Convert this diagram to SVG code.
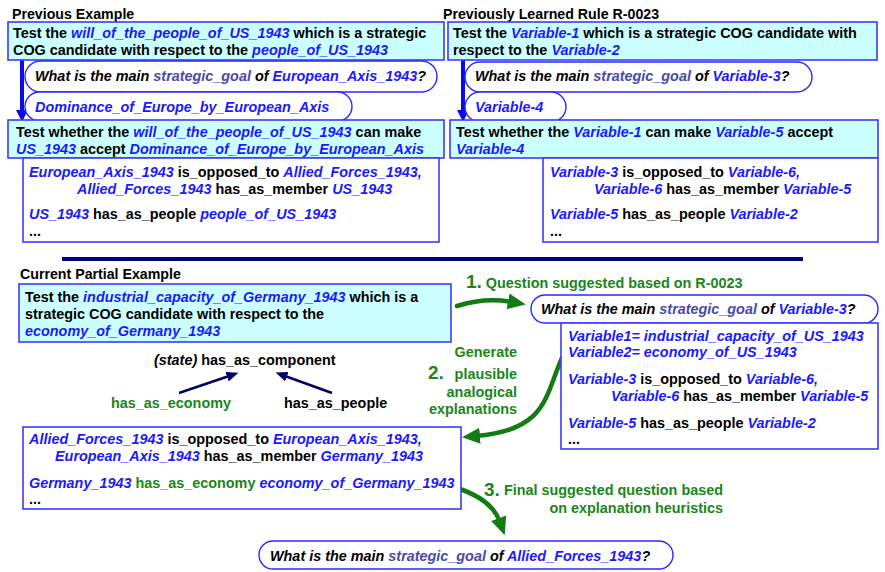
<svg xmlns="http://www.w3.org/2000/svg" width="885" height="572" viewBox="0 0 885 572">
<defs>
<style>
text{font-family:"Liberation Sans",Arial,Helvetica,sans-serif;font-weight:bold;font-size:14.4px;fill:#000}
.ttl{font-size:14.2px}
.v{fill:#1a1aff;font-style:italic}
.sg{fill:#4a4aaa;font-style:italic}
.i{font-style:italic}
.gr{fill:#1a861a}
.num{font-size:19px}
.cy{fill:#ccffff;stroke:#3a3aff;stroke-width:1.6}
.wb{fill:#fff;stroke:#3a3aff;stroke-width:1.6}
.pill{fill:#fff;stroke:#2a2aff;stroke-width:1.4}
.garr{fill:none;stroke:#147a14;stroke-width:4.5;stroke-linecap:round}
.narr{fill:none;stroke:#000066;stroke-width:2.5}
</style>
<marker id="gh" markerUnits="userSpaceOnUse" markerWidth="18" markerHeight="18" refX="4" refY="8" orient="auto" viewBox="0 0 18 16">
<path d="M0,0 L18,8 L0,16 z" fill="#147a14"/>
</marker>
<marker id="nh" markerUnits="userSpaceOnUse" markerWidth="12" markerHeight="10" refX="2" refY="5" orient="auto" viewBox="0 0 12 10">
<path d="M0,0 L12,5 L0,10 z" fill="#000066"/>
</marker>
</defs>
<rect width="885" height="572" fill="#fff"/>

<g id="titles">
<text x="12" y="19" class="ttl">Previous Example</text>
<text x="443" y="19" class="ttl">Previously Learned Rule R-0023</text>
<text x="20" y="279" class="ttl">Current Partial Example</text>
</g>

<g id="separator">
<line x1="62" y1="259" x2="803" y2="259" stroke="#000080" stroke-width="4"/>
</g>

<g id="connectors">
<line x1="22" y1="60" x2="22" y2="112" stroke="#0a0aee" stroke-width="4"/>
<polygon points="16,110 28,110 22,122" fill="#0a0aee"/>
<line x1="463" y1="60" x2="463" y2="112" stroke="#0a0aee" stroke-width="4"/>
<polygon points="457,110 469,110 463,122" fill="#0a0aee"/>
<line class="narr" x1="179" y1="393" x2="229" y2="376" marker-end="url(#nh)"/>
<line class="narr" x1="332" y1="393" x2="285" y2="376" marker-end="url(#nh)"/>
<path class="garr" d="M457,306 Q485,297 512,302" marker-end="url(#gh)"/>
<path class="garr" d="M562,358 C545,395 548,430 476,436" marker-end="url(#gh)"/>
<path class="garr" d="M457,488 C482,496 495,508 500,522" marker-end="url(#gh)"/>
</g>

<g id="prev-test">
<rect class="cy" x="8" y="22" width="436" height="38"/>
<text x="13" y="38">Test the <tspan class="v">will_of_the_people_of_US_1943</tspan> which is a strategic</text>
<text x="13" y="55">COG candidate with respect to the <tspan class="v">people_of_US_1943</tspan></text>
</g>
<g id="prev-question">
<rect class="pill" x="25" y="61" width="412" height="31" rx="15.5"/>
<text x="35" y="81" class="i">What is the main <tspan class="sg">strategic_goal</tspan> of <tspan class="v">European_Axis_1943</tspan>?</text>
</g>
<g id="prev-answer">
<rect class="pill" x="25" y="92" width="327" height="29" rx="14.5"/>
<text x="35" y="112" class="v">Dominance_of_Europe_by_European_Axis</text>
</g>
<g id="prev-subtest">
<rect class="cy" x="8" y="120" width="436" height="38"/>
<text x="16" y="137">Test whether the <tspan class="v">will_of_the_people_of_US_1943</tspan> can make</text>
<text x="16" y="154"><tspan class="v">US_1943</tspan> accept <tspan class="v">Dominance_of_Europe_by_European_Axis</tspan></text>
</g>
<g id="prev-explanation">
<rect class="wb" x="23" y="158" width="416" height="84"/>
<text x="29" y="177"><tspan class="v">European_Axis_1943</tspan> is_opposed_to <tspan class="v">Allied_Forces_1943,</tspan></text>
<text x="77" y="194"><tspan class="v">Allied_Forces_1943</tspan> has_as_member <tspan class="v">US_1943</tspan></text>
<text x="29" y="219"><tspan class="v">US_1943</tspan> has_as_people <tspan class="v">people_of_US_1943</tspan></text>
<text x="29" y="236">...</text>
</g>

<g id="rule-test">
<rect class="cy" x="448" y="22" width="429" height="38"/>
<text x="453" y="38">Test the <tspan class="v">Variable-1</tspan> which is a strategic COG candidate with</text>
<text x="453" y="55">respect to the <tspan class="v">Variable-2</tspan></text>
</g>
<g id="rule-question">
<rect class="pill" x="465" y="62" width="347" height="30" rx="15"/>
<text x="475" y="81" class="i">What is the main <tspan class="sg">strategic_goal</tspan> of <tspan class="v">Variable-3</tspan>?</text>
</g>
<g id="rule-answer">
<rect class="pill" x="465" y="92" width="101" height="30" rx="15"/>
<text x="475" y="112" class="v">Variable-4</text>
</g>
<g id="rule-subtest">
<rect class="cy" x="450" y="120" width="428" height="38"/>
<text x="456" y="137">Test whether the <tspan class="v">Variable-1</tspan> can make <tspan class="v">Variable-5</tspan> accept</text>
<text x="456" y="154"><tspan class="v">Variable-4</tspan></text>
</g>
<g id="rule-explanation">
<rect class="wb" x="543" y="158" width="335" height="84"/>
<text x="550" y="177"><tspan class="v">Variable-3</tspan> is_opposed_to <tspan class="v">Variable-6,</tspan></text>
<text x="594" y="194"><tspan class="v">Variable-6</tspan> has_as_member <tspan class="v">Variable-5</tspan></text>
<text x="550" y="219"><tspan class="v">Variable-5</tspan> has_as_people <tspan class="v">Variable-2</tspan></text>
<text x="550" y="236">...</text>
</g>

<g id="current-test">
<rect class="cy" x="19" y="284" width="432" height="58"/>
<text x="25" y="302">Test the <tspan class="v">industrial_capacity_of_Germany_1943</tspan> which is a</text>
<text x="25" y="319">strategic COG candidate with respect to the</text>
<text x="25" y="336" class="v">economy_of_Germany_1943</text>
</g>
<g id="has-as-component">
<text x="154" y="365"><tspan class="i">(state)</tspan> has_as_component</text>
</g>
<g id="has-as-economy">
<text x="111" y="408" class="gr">has_as_economy</text>
</g>
<g id="has-as-people">
<text x="284" y="408">has_as_people</text>
</g>

<g id="step1-label">
<text x="466" y="288" class="gr"><tspan class="num">1.</tspan> Question suggested based on R-0023</text>
</g>
<g id="suggested-question">
<rect class="pill" x="531" y="295" width="347" height="28" rx="14"/>
<text x="541" y="314" class="i">What is the main <tspan class="sg">strategic_goal</tspan> of <tspan class="v">Variable-3</tspan>?</text>
</g>
<g id="rule-bindings">
<rect class="wb" x="561" y="323" width="317" height="126"/>
<text x="568" y="341" class="v">Variable1= industrial_capacity_of_US_1943</text>
<text x="568" y="357" class="v">Variable2= economy_of_US_1943</text>
<text x="568" y="384"><tspan class="v">Variable-3</tspan> is_opposed_to <tspan class="v">Variable-6,</tspan></text>
<text x="611" y="401"><tspan class="v">Variable-6</tspan> has_as_member <tspan class="v">Variable-5</tspan></text>
<text x="568" y="428"><tspan class="v">Variable-5</tspan> has_as_people <tspan class="v">Variable-2</tspan></text>
<text x="568" y="444">...</text>
</g>
<g id="step2-label">
<text x="517" y="357" class="gr" text-anchor="end">Generate</text>
<text x="428" y="379" class="gr num">2.</text>
<text x="517" y="379" class="gr" text-anchor="end">plausible</text>
<text x="517" y="397" class="gr" text-anchor="end">analogical</text>
<text x="517" y="414" class="gr" text-anchor="end">explanations</text>
</g>

<g id="current-explanation">
<rect class="wb" x="23" y="427" width="438" height="82"/>
<text x="29" y="444"><tspan class="v">Allied_Forces_1943</tspan> is_opposed_to <tspan class="v">European_Axis_1943,</tspan></text>
<text x="55" y="461"><tspan class="v">European_Axis_1943</tspan> has_as_member <tspan class="v">Germany_1943</tspan></text>
<text x="29" y="488"><tspan class="v">Germany_1943</tspan> <tspan class="gr">has_as_economy</tspan> <tspan class="v">economy_of_Germany_1943</tspan></text>
<text x="29" y="504">...</text>
</g>

<g id="step3-label">
<text x="484" y="496" class="gr num">3.</text>
<text x="723" y="495" class="gr" text-anchor="end">Final suggested question based</text>
<text x="723" y="513" class="gr" text-anchor="end">on explanation heuristics</text>
</g>
<g id="final-question">
<rect class="pill" x="259" y="541" width="414" height="28" rx="14"/>
<text x="270" y="561" class="i">What is the main <tspan class="sg">strategic_goal</tspan> of <tspan class="v">Allied_Forces_1943</tspan>?</text>
</g>
</svg>
